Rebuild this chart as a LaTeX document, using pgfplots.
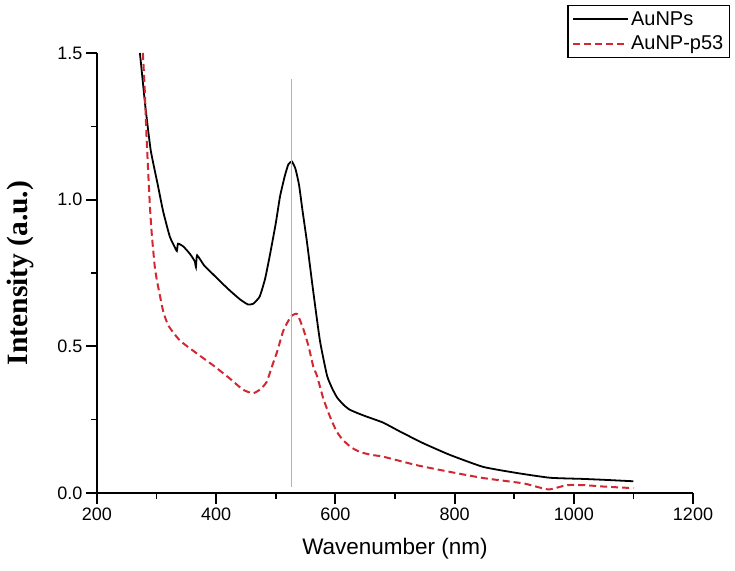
\documentclass[border=0pt]{standalone}
\usepackage{fontspec}
\setmainfont{Liberation Sans}
\newfontfamily\timesfont{Liberation Serif}
\usepackage{pgfplots}
\pgfplotsset{compat=1.18}
\definecolor{dashred}{RGB}{210,40,50}

\begin{document}
\begin{tikzpicture}
\begin{axis}[
    at={(0,0)}, anchor=south west,
    scale only axis,
    width=596pt, height=440pt,
    xmin=200, xmax=1200,
    ymin=0, ymax=1.5,
    axis x line=bottom, axis y line=left,
    every outer x axis line/.append style={-, line width=2.4pt, black},
    every outer y axis line/.append style={-, line width=2.4pt, black},
    xtick={200,400,600,800,1000,1200},
    ytick={0,0.5,1.0,1.5},
    minor x tick num=1,
    minor y tick num=1,
    tick align=outside,
    major tick length=11pt,
    minor tick length=6pt,
    every tick/.append style={black, line width=2pt},
    every minor tick/.append style={black, line width=1.6pt},
    /pgf/number format/assume math mode=true,
    xticklabel style={font=\fontsize{18}{20}\selectfont, /pgf/number format/1000 sep={}},
    yticklabel style={font=\fontsize{18}{20}\selectfont, /pgf/number format/.cd, fixed, fixed zerofill, precision=1},
    xlabel={Wavenumber (nm)},
    ylabel={\timesfont\bfseries Intensity (a.u.)},
    xlabel style={font=\fontsize{22.5}{25}\selectfont, at={(0.5,0)}, anchor=base, yshift=-61pt},
    ylabel style={font=\fontsize{29.5}{32}\selectfont, at={(0,0.5)}, anchor=center, yshift=77pt},
    legend style={
        at={(1.062,1.109)}, anchor=north east,
        draw=black, line width=1.2pt,
        font=\fontsize{20}{22}\selectfont,
        inner xsep=4pt, inner ysep=4pt,
        row sep=5pt,
    },
    legend cell align=left,
    legend image code/.code={\draw[#1] (0pt,0pt) -- (55pt,0pt);},
    clip=true,
]
\addplot[black, line width=1.8pt, smooth, tension=0.3] coordinates {
    (272,1.50)(276,1.42)(281,1.32)(290,1.17)(301,1.06)(311,0.96)(322,0.875)
    (330,0.84)(334,0.825)(336,0.85)(345,0.84)(356,0.815)(364,0.79)(366,0.77)
    (368,0.81)(380,0.775)(395,0.745)(410,0.715)(423,0.69)(440,0.66)(453,0.643)
    (462,0.645)(473,0.67)(482,0.73)(490,0.81)(500,0.92)(507,1.01)(515,1.08)
    (521,1.12)(527,1.13)(533,1.105)(539,1.05)(545,0.96)(552,0.86)(562,0.70)
    (574,0.52)(586,0.40)(595,0.355)(603,0.325)(614,0.30)(624,0.284)(640,0.27)
    (653,0.26)(680,0.24)(708,0.21)(747,0.17)(792,0.13)(848,0.089)(905,0.068)
    (960,0.052)(1016,0.048)(1050,0.045)(1100,0.040)
};
\addlegendentry{AuNPs}
\addplot[dashred, line width=2pt, dash pattern=on 7pt off 4pt, smooth, tension=0.3] coordinates {
    (277,1.50)(280,1.38)(283,1.22)(286,1.09)(289,0.97)(292,0.88)(297,0.77)
    (301,0.72)(311,0.62)(320,0.57)(339,0.52)(368,0.475)(395,0.435)(423,0.39)
    (445,0.352)(462,0.34)(475,0.355)(485,0.38)(495,0.44)(502,0.48)(512,0.55)
    (519,0.58)(527,0.605)(536,0.61)(546,0.56)(555,0.50)(563,0.43)(569,0.40)
    (580,0.32)(591,0.26)(602,0.21)(613,0.18)(627,0.155)(641,0.14)(660,0.13)
    (680,0.124)(736,0.095)(792,0.072)(848,0.051)(915,0.033)(940,0.02)
    (958,0.012)(975,0.02)(989,0.027)(1016,0.027)(1050,0.022)(1086,0.018)(1100,0.017)
};
\addlegendentry{AuNP-p53}
\addplot[gray!60, line width=1pt, forget plot] coordinates {(527,0.02)(527,1.41)};
\end{axis}
\pgfresetboundingbox
\useasboundingbox (-97pt,-77pt) rectangle (638pt,493pt);
\end{tikzpicture}
\end{document}
